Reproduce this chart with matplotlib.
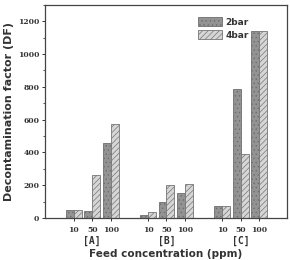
import numpy as np
import matplotlib.pyplot as plt
from matplotlib.ticker import MultipleLocator
from matplotlib.transforms import blended_transform_factory

# --------- Datos ---------
groups = ["[A]", "[B]", "[C]"]
concentrations = ["10", "50", "100"]
df_2bar = [48, 40, 455, 18, 99, 150, 71, 787, 1140]
df_4bar = [48, 263, 571, 36, 198, 208, 71, 393, 1140]

plt.rcParams["hatch.linewidth"] = 0.5

fig = plt.figure(figsize=(2.9, 2.6), dpi=100)
ax = fig.add_axes([0.155, 0.162, 0.835, 0.819])

# posiciones: 3 barras por grupo, separacion de 4 entre grupos
pos = np.array([4 * g + i for g in range(len(groups)) for i in range(len(concentrations))], dtype=float)
w = 0.43

ax.bar(pos - w / 2, df_2bar, width=w, color="#939393", edgecolor="#6e6e6e",
       hatch="....", linewidth=0.6, label="2bar")
ax.bar(pos + w / 2, df_4bar, width=w, color="#d6d6d6", edgecolor="#767676",
       hatch="//////", linewidth=0.6, label="4bar")

ax.set_xlim(-1.55, 11.5)
ax.set_ylim(0, 1300)
ax.set_xticks(pos)
ax.set_xticklabels(concentrations * len(groups), fontsize=5.5, fontweight="bold",
                   family="DejaVu Serif", color="#333333")
ax.yaxis.set_major_locator(MultipleLocator(200))
ax.yaxis.set_minor_locator(MultipleLocator(100))
for lab in ax.get_yticklabels():
    lab.set_fontsize(5.5)
    lab.set_fontweight("bold")
    lab.set_family("DejaVu Serif")
    lab.set_color("#333333")
ax.tick_params(axis="both", which="major", direction="out", length=2.5, width=0.7, pad=1.5, colors="#333333")
ax.tick_params(axis="y", which="minor", direction="out", length=1.5, width=0.6, colors="#333333")
ax.tick_params(axis="x", pad=3.5)

for s in ax.spines.values():
    s.set_linewidth(0.9)
    s.set_color("#444444")

# etiquetas de grupo
trans = blended_transform_factory(ax.transData, ax.transAxes)
for g, name in enumerate(groups):
    ax.text(4 * g + 1, -0.085, name, transform=trans, ha="center", va="top",
            fontsize=7, fontweight="bold", family="DejaVu Sans Mono", color="#333333")

ax.set_ylabel("Decontamination factor (DF)", fontsize=8, fontweight="bold", color="#333333", labelpad=3)
ax.set_xlabel("Feed concentration (ppm)", fontsize=7.5, fontweight="bold", color="#333333", labelpad=11)

leg = ax.legend(loc="upper left", bbox_to_anchor=(0.6, 0.98), frameon=False, fontsize=6.5,
                handlelength=2.6, handleheight=1.1, handletextpad=0.4, labelspacing=0.4)
for t in leg.get_texts():
    t.set_fontweight("bold")
    t.set_color("#333333")

fig.savefig("out.png", dpi=100)
